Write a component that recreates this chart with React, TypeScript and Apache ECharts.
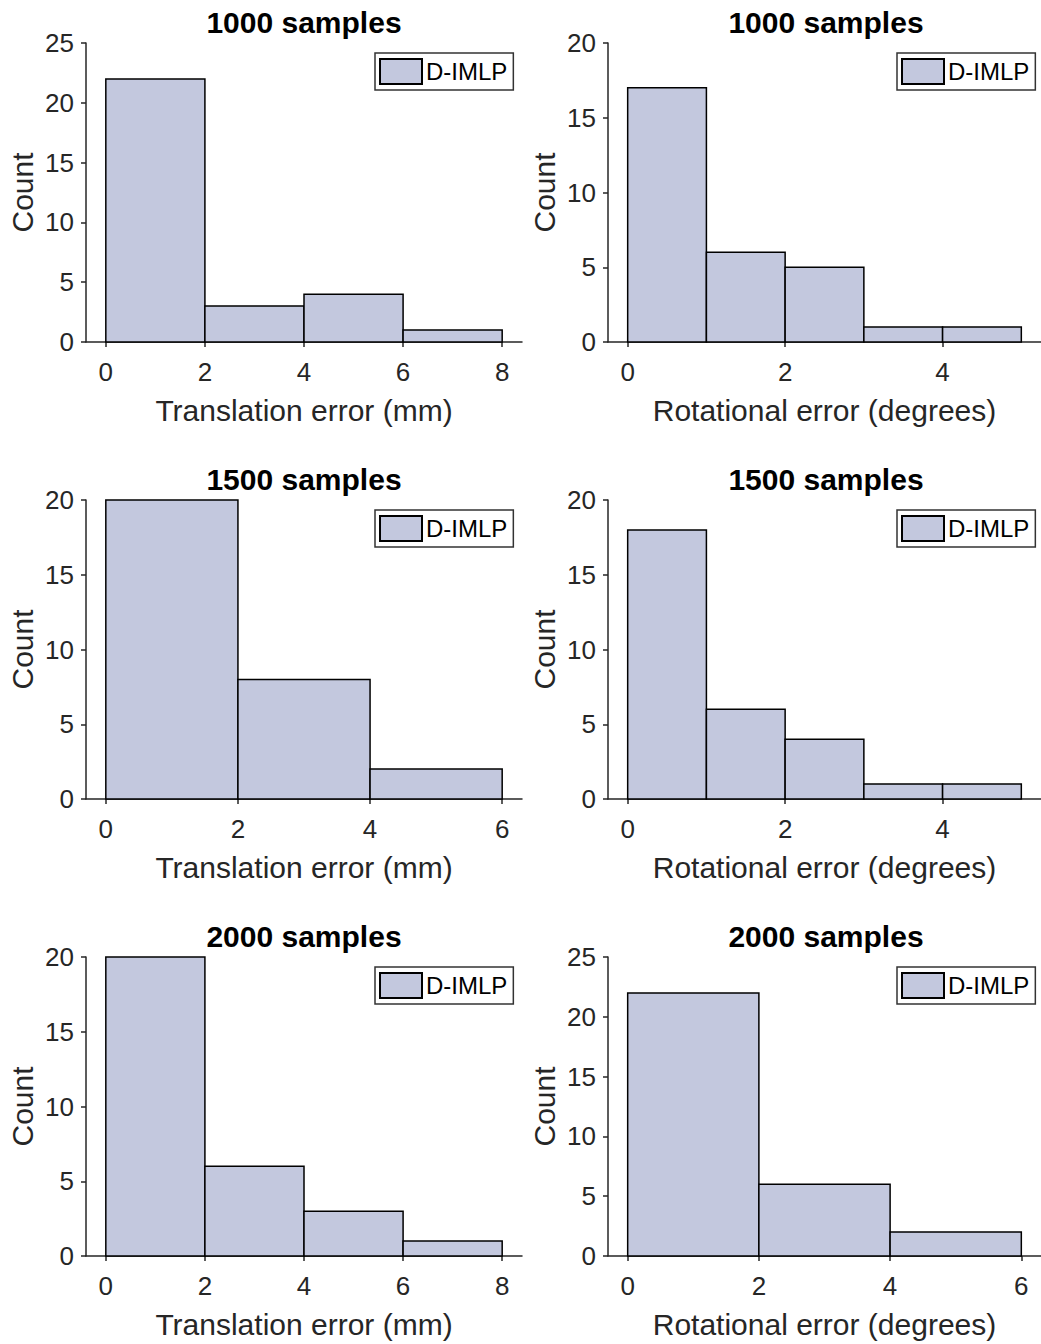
import React, { useEffect, useRef } from "react";
import * as echarts from "echarts";

// ---- data ----
const titles = ["1000 samples", "1000 samples", "1500 samples", "1500 samples", "2000 samples", "2000 samples"];
const transName = "Translation error (mm)";
const rotName = "Rotational error (degrees)";
const legendName = "D-IMLP";

const trans1000Edges = [0, 2, 4, 6, 8];
const trans1000Counts = [22, 3, 4, 1];
const rot1000Edges = [0, 1, 2, 3, 4, 5];
const rot1000Counts = [17, 6, 5, 1, 1];

const trans1500Edges = [0, 2, 4, 6];
const trans1500Counts = [20, 8, 2];
const rot1500Edges = [0, 1, 2, 3, 4, 5];
const rot1500Counts = [18, 6, 4, 1, 1];

const trans2000Edges = [0, 2, 4, 6, 8];
const trans2000Counts = [20, 6, 3, 1];
const rot2000Edges = [0, 2, 4, 6];
const rot2000Counts = [22, 6, 2];

const trans8Ticks = [0, 2, 4, 6, 8];
const trans6Ticks = [0, 2, 4, 6];
const rot5Ticks = [0, 2, 4];
const rot6Ticks = [0, 2, 4, 6];

const xLim8 = [-0.4, 8.4];
const xLim6 = [-0.3, 6.3];
const xLim5 = [-0.25, 5.25];
const yMax = [25, 20, 20, 20, 20, 25];

// ---- style ----
const FONT = "'Liberation Sans', Arial, Helvetica, sans-serif";
const AXIS_COLOR = "#262626";
const BAR_FILL = "#c3c8de";

const panels = [
  { edges: trans1000Edges, counts: trans1000Counts, xlim: xLim8, ticks: trans8Ticks, name: transName },
  { edges: rot1000Edges, counts: rot1000Counts, xlim: xLim5, ticks: rot5Ticks, name: rotName },
  { edges: trans1500Edges, counts: trans1500Counts, xlim: xLim6, ticks: trans6Ticks, name: transName },
  { edges: rot1500Edges, counts: rot1500Counts, xlim: xLim5, ticks: rot5Ticks, name: rotName },
  { edges: trans2000Edges, counts: trans2000Counts, xlim: xLim8, ticks: trans8Ticks, name: transName },
  { edges: rot2000Edges, counts: rot2000Counts, xlim: xLim6, ticks: rot6Ticks, name: rotName },
];

const colLeft = [86, 608];
const rowTop = [43, 500, 957];
const GRID_W = 436;
const GRID_H = 299;

export default function App() {
  const ref = useRef<HTMLDivElement>(null);

  useEffect(() => {
    document.body.style.margin = "0";
    if (!ref.current) return;
    const chart = echarts.init(ref.current, undefined, { renderer: "svg" });

    const grid: any[] = [];
    const xAxis: any[] = [];
    const yAxis: any[] = [];
    const series: any[] = [];
    const title: any[] = [];
    const legend: any[] = [];

    panels.forEach((p, i) => {
      const col = i % 2;
      const row = Math.floor(i / 2);
      const left = colLeft[col];
      const top = rowTop[row];
      grid.push({ left, top, width: GRID_W, height: GRID_H, containLabel: false });

      xAxis.push({
        type: "value",
        gridIndex: i,
        min: p.xlim[0],
        max: p.xlim[1],
        name: p.name,
        nameLocation: "middle",
        nameGap: 53,
        nameTextStyle: { fontFamily: FONT, fontSize: 30, color: AXIS_COLOR },
        axisLine: { show: true, onZero: false, lineStyle: { color: AXIS_COLOR, width: 1.5 } },
        axisTick: { show: true, inside: false, length: 5, customValues: p.ticks, lineStyle: { color: AXIS_COLOR, width: 1.5 } },
        axisLabel: { show: true, customValues: p.ticks, margin: 17, fontFamily: FONT, fontSize: 26, color: AXIS_COLOR },
        splitLine: { show: false },
      });

      yAxis.push({
        type: "value",
        gridIndex: i,
        min: 0,
        max: yMax[i],
        interval: 5,
        name: "Count",
        nameLocation: "middle",
        nameGap: 49,
        nameTextStyle: { fontFamily: FONT, fontSize: 30, color: AXIS_COLOR },
        axisLine: { show: true, onZero: false, lineStyle: { color: AXIS_COLOR, width: 1.5 } },
        axisTick: { show: true, inside: false, length: 5, lineStyle: { color: AXIS_COLOR, width: 1.5 } },
        axisLabel: { show: true, margin: 12, fontFamily: FONT, fontSize: 26, color: AXIS_COLOR },
        splitLine: { show: false },
      });

      const data = p.counts.map((c, k) => [p.edges[k], p.edges[k + 1], c]);
      series.push({
        type: "custom",
        name: legendName,
        xAxisIndex: i,
        yAxisIndex: i,
        data,
        encode: { x: [0, 1], y: 2 },
        itemStyle: { color: BAR_FILL, borderColor: "#000", borderWidth: 1.5 },
        renderItem: (params: any, api: any) => {
          const x0 = api.value(0);
          const x1 = api.value(1);
          const c = api.value(2);
          const p0 = api.coord([x0, c]);
          const p1 = api.coord([x1, 0]);
          return {
            type: "rect",
            shape: { x: p0[0], y: p0[1], width: p1[0] - p0[0], height: p1[1] - p0[1] },
            style: { fill: BAR_FILL, stroke: "#000", lineWidth: 1.5 },
          };
        },
      });

      title.push({
        text: titles[i],
        left: left + GRID_W / 2,
        top: top - 36,
        textAlign: "center",
        padding: 0,
        textStyle: { fontFamily: FONT, fontSize: 30, fontWeight: "bold", color: "#000" },
      });

      legend.push({
        data: [legendName],
        left: left + GRID_W - 147,
        top: top + 10,
        orient: "horizontal",
        padding: [5, 6, 5, 4],
        itemWidth: 42,
        itemHeight: 25,
        itemGap: 0,
        icon: "rect",
        selectedMode: false,
        borderColor: "#333",
        borderWidth: 1.5,
        backgroundColor: "#fff",
        itemStyle: { color: BAR_FILL, borderColor: "#000", borderWidth: 2 },
        textStyle: { fontFamily: FONT, fontSize: 24, color: "#000", padding: [0, 0, 0, -1] },
      });
    });

    chart.setOption({
      animation: false,
      backgroundColor: "#fff",
      title,
      legend,
      grid,
      xAxis,
      yAxis,
      series,
    });

    return () => chart.dispose();
  }, []);

  return <div ref={ref} style={{ width: 1041, height: 1344 }} />;
}
